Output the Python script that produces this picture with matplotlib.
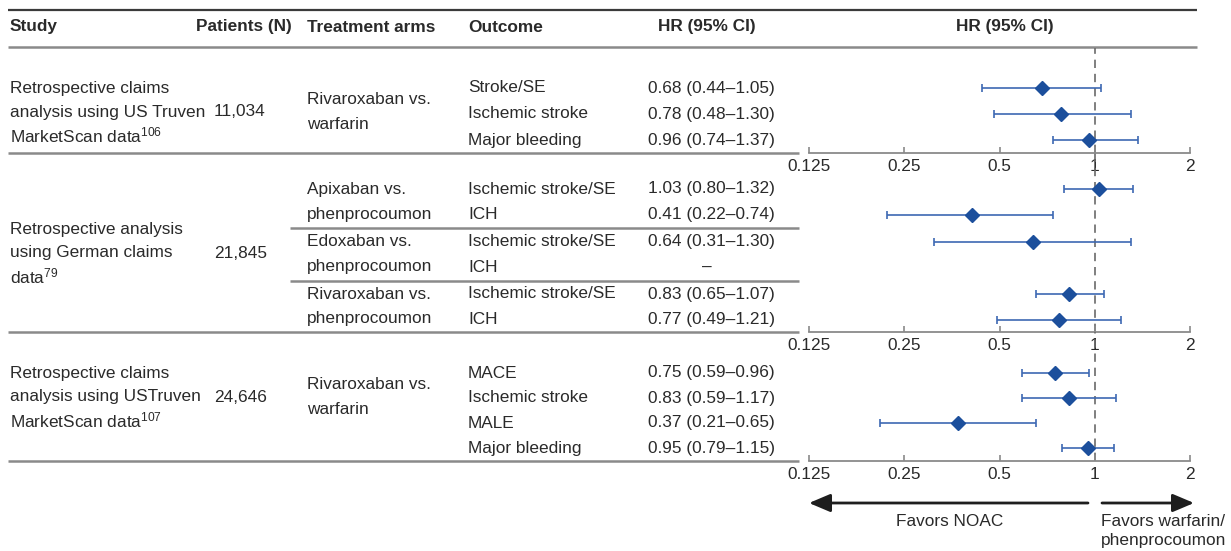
import numpy as np
import matplotlib.pyplot as plt

plt.rcParams['font.family'] = ['Liberation Sans', 'DejaVu Sans']
plt.rcParams['mathtext.default'] = 'regular'

# --- table content ---------------------------------------------------------
studies = [
    ["Retrospective claims", "analysis using US Truven", "MarketScan data$^{106}$"],
    ["Retrospective analysis", "using German claims", "data$^{79}$"],
    ["Retrospective claims", "analysis using USTruven", "MarketScan data$^{107}$"],
]
patients = ["11,034", "21,845", "24,646"]

arms = [
    ["Rivaroxaban vs.", "warfarin"],
    ["Apixaban vs.", "phenprocoumon"],
    ["Edoxaban vs.", "phenprocoumon"],
    ["Rivaroxaban vs.", "phenprocoumon"],
    ["Rivaroxaban vs.", "warfarin"],
]
arm_study = [0, 1, 1, 1, 2]

outcomes = ["Stroke/SE", "Ischemic stroke", "Major bleeding",
            "Ischemic stroke/SE", "ICH",
            "Ischemic stroke/SE", "ICH",
            "Ischemic stroke/SE", "ICH",
            "MACE", "Ischemic stroke", "MALE", "Major bleeding"]
row_arm = [0, 0, 0, 1, 1, 2, 2, 3, 3, 4, 4, 4, 4]

hr    = [0.68, 0.78, 0.96, 1.03, 0.41, 0.64, np.nan, 0.83, 0.77, 0.75, 0.83, 0.37, 0.95]
ci_lo = [0.44, 0.48, 0.74, 0.80, 0.22, 0.31, np.nan, 0.65, 0.49, 0.59, 0.59, 0.21, 0.79]
ci_hi = [1.05, 1.30, 1.37, 1.32, 0.74, 1.30, np.nan, 1.07, 1.21, 0.96, 1.17, 0.65, 1.15]

hr_ticks = [0.125, 0.25, 0.5, 1, 2]
hr_tick_labels = ["0.125", "0.25", "0.5", "1", "2"]

# --- layout (pixel units, y downwards) --------------------------------------
W, H = 1231, 551
group_top = [48, 153, 332]
group_bottom = [153, 332, 461]
first_row = [88, 189, 373]
row_pitch = [26, 25.5, 25]
arm_gap = 1.5
label_y = [112, 253, 397]
plot_left, plot_right = 809, 1190

TXT = '#2a2a2a'
LINE = '#8a8a8a'
MARK = '#1c4f9c'
BAR = '#3d68b3'
FS = 12.4

# row positions
row_study = [arm_study[a] for a in row_arm]
row_y = []
for i in range(len(outcomes)):
    g = row_study[i]
    k = [j for j in range(i) if row_study[j] == g]
    breaks = len({row_arm[j] for j in k} | {row_arm[i]}) - 1
    row_y.append(first_row[g] + row_pitch[g] * len(k) + arm_gap * breaks)
row_y = np.array(row_y)

fig = plt.figure(figsize=(W / 100, H / 100), dpi=100)
tab = fig.add_axes([0, 0, 1, 1])
tab.set_xlim(0, W)
tab.set_ylim(H, 0)
tab.axis('off')


def lines_at(x, yc, lines, pitch=23.5, **kw):
    n = len(lines)
    for i, s in enumerate(lines):
        tab.text(x, yc + (i - (n - 1) / 2) * pitch, s, va='center',
                 fontsize=FS, color=TXT, **kw)


# header
tab.plot([8, 1197], [10, 10], color='#3a3a3a', lw=1.6, solid_capstyle='butt')
tab.plot([8, 1197], [47, 47], color=LINE, lw=1.8, solid_capstyle='butt')
hy = 27
tab.text(10, hy, "Study", fontweight='bold', fontsize=FS, color=TXT, va='center')
tab.text(292, hy, "Patients (N)", fontweight='bold', fontsize=FS, color=TXT,
         va='center', ha='right')
tab.text(307, hy, "Treatment arms", fontweight='bold', fontsize=FS, color=TXT, va='center')
tab.text(468, hy, "Outcome", fontweight='bold', fontsize=FS, color=TXT, va='center')
tab.text(707, hy, "HR (95% CI)", fontweight='bold', fontsize=FS, color=TXT,
         va='center', ha='center')
tab.text(1005, hy, "HR (95% CI)", fontweight='bold', fontsize=FS, color=TXT,
         va='center', ha='center')

# study / patients columns + group separators
for g in range(len(studies)):
    lines_at(10, label_y[g], studies[g])
    tab.text(214, label_y[g], patients[g], fontsize=FS, color=TXT, va='center')
    tab.plot([8, 799], [group_bottom[g]] * 2, color=LINE, lw=1.8,
             solid_capstyle='butt')

# treatment arms
for a, arm in enumerate(arms):
    ys = row_y[[i for i in range(len(row_arm)) if row_arm[i] == a]]
    g = arm_study[a]
    n_arms = arm_study.count(g)
    yc = label_y[g] if n_arms == 1 else ys.mean()
    lines_at(307, yc, arm, pitch=24.5)
    if a > 0 and arm_study[a - 1] == g:
        prev = row_y[[i for i in range(len(row_arm)) if row_arm[i] == a - 1]]
        sep = (prev.max() + ys.min()) / 2
        tab.plot([290, 799], [sep, sep], color=LINE, lw=1.8, solid_capstyle='butt')

# outcome + HR text
for i, name in enumerate(outcomes):
    tab.text(468, row_y[i], name, fontsize=FS, color=TXT, va='center')
    if np.isnan(hr[i]):
        tab.text(707, row_y[i], "\u2013", fontsize=FS, color=TXT,
                 va='center', ha='center')
    else:
        tab.text(648, row_y[i], f"{hr[i]:.2f} ({ci_lo[i]:.2f}\u2013{ci_hi[i]:.2f})",
                 fontsize=FS, color=TXT, va='center')

# forest panels, one per study
hr_a = np.array(hr)
lo_a = np.array(ci_lo)
hi_a = np.array(ci_hi)
for g in range(len(studies)):
    top, bot = group_top[g], group_bottom[g]
    ax = fig.add_axes([plot_left / W, 1 - bot / H, (plot_right - plot_left) / W,
                       (bot - top) / H])
    ax.patch.set_alpha(0)
    ax.set_xscale('log', base=2)
    ax.set_xlim(0.125, 2)
    ax.set_ylim(bot, top)
    for s in ['top', 'left', 'right']:
        ax.spines[s].set_visible(False)
    ax.spines['bottom'].set_color(LINE)
    ax.spines['bottom'].set_linewidth(1.3)
    ax.set_yticks([])
    ax.set_xticks(hr_ticks)
    ax.set_xticklabels(hr_tick_labels)
    ax.minorticks_off()
    ax.tick_params(axis='x', direction='in', length=4, width=1.2, color=LINE,
                   labelsize=FS, labelcolor=TXT, pad=4)
    ax.axvline(1, color='#6a6a6a', lw=1.2, ls=(0, (5, 3.5)), zorder=1)
    sel = np.array([row_study[i] == g and not np.isnan(hr[i])
                    for i in range(len(hr))])
    ax.errorbar(hr_a[sel], row_y[sel],
                xerr=[hr_a[sel] - lo_a[sel], hi_a[sel] - hr_a[sel]],
                fmt='D', ms=7.5, mfc=MARK, mec=MARK, ecolor=BAR,
                elinewidth=1.2, capsize=2.8, capthick=1.2, zorder=3,
                clip_on=False)

# direction arrows
arrow_style = '-|>,head_length=1.3,head_width=0.55'
tab.annotate('', xy=(809, 503), xytext=(1088, 503),
             arrowprops=dict(arrowstyle=arrow_style, lw=2, color='#1e1e1e',
                             shrinkA=0, shrinkB=0))
tab.annotate('', xy=(1194, 503), xytext=(1102, 503),
             arrowprops=dict(arrowstyle=arrow_style, lw=2, color='#1e1e1e',
                             shrinkA=0, shrinkB=0))
tab.text(950, 522, "Favors NOAC", fontsize=FS, color=TXT, va='center', ha='center')
tab.text(1101, 522, "Favors warfarin/", fontsize=FS, color=TXT, va='center')
tab.text(1101, 541, "phenprocoumon", fontsize=FS, color=TXT, va='center')

fig.savefig('out.png', dpi=100)
